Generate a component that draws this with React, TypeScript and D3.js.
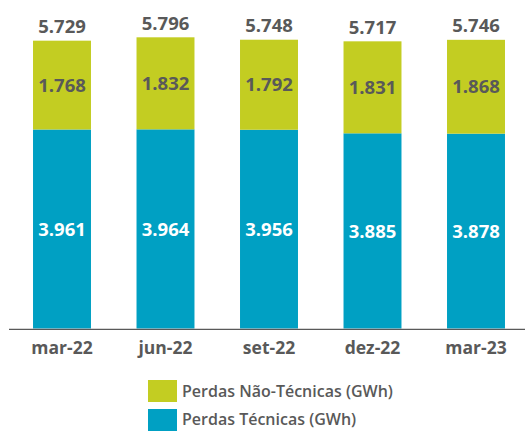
import React from "react";
import * as d3 from "d3";

const categories = ["mar-22", "jun-22", "set-22", "dez-22", "mar-23"];
const tecnicas = [3.961, 3.964, 3.956, 3.885, 3.878];
const naoTecnicas = [1.768, 1.832, 1.792, 1.831, 1.868];
const totals = [5.729, 5.796, 5.748, 5.717, 5.746];
const seriesNames = ["Perdas Não-Técnicas (GWh)", "Perdas Técnicas (GWh)"];

const GREEN = "#c3cd22";
const BLUE = "#00a0c3";
const TEXT = "#595959";
const FONT = "'Open Sans', 'Noto Sans', sans-serif";

const fmt = (v: number) => v.toFixed(3);

export default function App() {
  const W = 525, H = 431;
  const x = d3.scaleBand<string>().domain(categories).range([10.25, 527.75]).paddingInner(0.44).paddingOuter(0.22);
  const y = d3.scaleLinear().domain([0, 6]).range([328.5, 328.5 - 6 * 50.24]);
  const bw = x.bandwidth();

  const rows = categories.map((c, i) => ({ c, t: tecnicas[i], n: naoTecnicas[i], total: totals[i] }));
  const stack = d3.stack<any>().keys(["t", "n"])(rows);

  return (
    <svg width={W} height={H} style={{ position: "absolute", left: 0, top: 0 }} fontFamily={FONT}>
      <rect width={W} height={H} fill="#fff" />
      {stack.map((s, si) =>
        s.map((d, i) => {
          const x0 = x(categories[i])!;
          const yTop = y(d[1]);
          const yBot = y(d[0]);
          const mid = (yTop + yBot) / 2;
          const val = si === 0 ? tecnicas[i] : naoTecnicas[i];
          return (
            <g key={`${si}-${i}`}>
              <rect x={x0} y={yTop} width={bw} height={yBot - yTop} fill={si === 0 ? BLUE : GREEN} />
              <text x={x0 + bw / 2} y={mid} dy="0.36em" textAnchor="middle" fontSize={18.5} fontWeight={700}
                fill={si === 0 ? "#ffffff" : TEXT}>{fmt(val)}</text>
            </g>
          );
        })
      )}
      {rows.map((r, i) => (
        <text key={"tot" + i} x={x(r.c)! + bw / 2} y={y(r.total) - 14} dy="0.36em" textAnchor="middle"
          fontSize={18.5} fontWeight={700} fill={TEXT}>{fmt(r.total)}</text>
      ))}
      <line x1={9} x2={525} y1={329.3} y2={329.3} stroke="#595959" strokeWidth={1.3} />
      {categories.map((c) => (
        <text key={c} x={x(c)! + bw / 2} y={348} dy="0.36em" textAnchor="middle" fontSize={17.5} fontWeight={700} fill={TEXT}>{c}</text>
      ))}
      {seriesNames.map((n, i) => (
        <g key={n}>
          <rect x={148} y={380 + i * 29} width={29} height={22} fill={i === 0 ? GREEN : BLUE} />
          <text x={182} y={391 + i * 28} dy="0.36em" fontSize={16} fontWeight={600} fill={TEXT}>{n}</text>
        </g>
      ))}
    </svg>
  );
}
